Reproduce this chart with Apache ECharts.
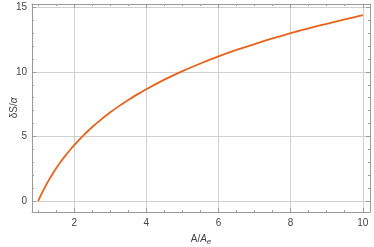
<!DOCTYPE html>
<html><head><meta charset="utf-8">
<script src="https://cdn.jsdelivr.net/npm/echarts@6/dist/echarts.min.js"></script>
<style>html,body{margin:0;padding:0;background:#fff}#c{width:374px;height:247px}</style>
</head><body><div id="c"></div>
<script>
const xValues = [1, 1.05, 1.1, 1.2, 1.3, 1.4, 1.5, 1.6, 1.75, 1.9, 2, 2.25, 2.5, 2.75, 3, 3.25, 3.5, 3.75, 4, 4.5, 5, 5.5, 6, 6.5, 7, 7.5, 8, 8.5, 9, 9.5, 10];
const yValues = [0, 0.3, 0.6, 1.14, 1.64, 2.1, 2.53, 2.94, 3.5, 4.01, 4.33, 5.07, 5.73, 6.32, 6.87, 7.37, 7.83, 8.26, 8.66, 9.4, 10.06, 10.65, 11.2, 11.7, 12.16, 12.59, 13.0, 13.38, 13.73, 14.07, 14.39];
const xMajor = [2, 4, 6, 8, 10];
const xMinor = [1, 1.5, 2.5, 3, 3.5, 4.5, 5, 5.5, 6.5, 7, 7.5, 8.5, 9, 9.5];
const yMajor = [0, 5, 10, 15];
const yMinor = [1, 2, 3, 4, 6, 7, 8, 9, 11, 12, 13, 14];
const xRange = [0.83, 10.2];
const yRange = [-0.85, 15.26];

const frame = '#9a9a9a';
const grid = '#d0d0d0';
const lab = '#444';
const font = 'Liberation Sans, Arial, sans-serif';

function ax(kind, pos, ticks, len, opts) {
  const r = kind === 'x' ? xRange : yRange;
  return Object.assign({
    type: 'value', position: pos, min: r[0], max: r[1],
    axisLine: { show: false, onZero: false },
    axisTick: { show: true, inside: true, length: len, customValues: ticks, lineStyle: { color: frame, width: 1 } },
    axisLabel: { show: false },
    splitLine: { show: false }
  }, opts || {});
}

const data = xValues.map((x, i) => [x, yValues[i]]);
const chart = echarts.init(document.getElementById('c'), null, { renderer: 'canvas' });
chart.setOption({
  animation: false,
  grid: { left: 32, right: 4, top: 4, bottom: 35, containLabel: false, outerBoundsMode: 'none' },
  xAxis: [
    ax('x', 'bottom', xMajor, 4, {
      axisLine: { show: true, onZero: false, lineStyle: { color: frame, width: 1 } },
      axisLabel: { show: true, customValues: xMajor, color: lab, fontSize: 10, fontFamily: font, margin: 6 },
      splitLine: { show: true, lineStyle: { color: grid, width: 1 } },
      name: '{n|A/}{i|A}{s|e}', nameLocation: 'middle', nameGap: 21, nameMoveOverlap: false,
      nameTextStyle: { rich: {
        n: { fontSize: 10, color: lab, fontFamily: font },
        i: { fontSize: 10, color: lab, fontFamily: font, fontStyle: 'italic' },
        s: { fontSize: 8, color: lab, fontFamily: font, fontStyle: 'italic', verticalAlign: 'bottom', padding: [5, 0, 0, 0] }
      } }
    }),
    ax('x', 'bottom', xMinor, 2),
    ax('x', 'top', xMajor, 4, { axisLine: { show: true, onZero: false, lineStyle: { color: frame, width: 1 } } }),
    ax('x', 'top', xMinor, 2)
  ],
  yAxis: [
    ax('y', 'left', yMajor, 4, {
      axisLine: { show: true, onZero: false, lineStyle: { color: frame, width: 1 } },
      axisLabel: { show: true, customValues: yMajor, color: lab, fontSize: 10, fontFamily: font, margin: 5 },
      splitLine: { show: true, lineStyle: { color: grid, width: 1 } },
      name: '{n|δS/}{i|α}', nameLocation: 'middle', nameGap: 13, nameRotate: 90, nameMoveOverlap: false,
      nameTextStyle: { rich: {
        n: { fontSize: 10, color: lab, fontFamily: font },
        i: { fontSize: 10, color: lab, fontFamily: font, fontStyle: 'italic' }
      } }
    }),
    ax('y', 'left', yMinor, 2),
    ax('y', 'right', yMajor, 4, { axisLine: { show: true, onZero: false, lineStyle: { color: frame, width: 1 } } }),
    ax('y', 'right', yMinor, 2)
  ],
  series: [{
    type: 'line', data: data, xAxisIndex: 0, yAxisIndex: 0,
    smooth: 0.3, showSymbol: false, symbol: 'none',
    lineStyle: { color: '#e8621a', width: 1.8 }
  }]
});
</script></body></html>
